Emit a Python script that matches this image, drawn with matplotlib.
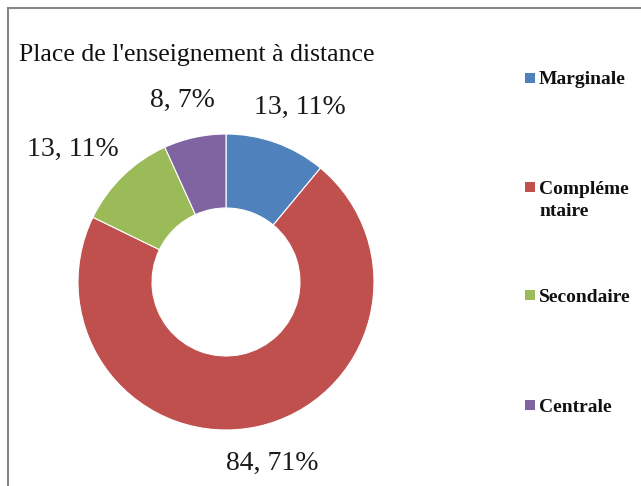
import matplotlib
matplotlib.use("Agg")
import numpy as np
import matplotlib.pyplot as plt
from matplotlib.patches import Rectangle

categories = ["Marginale", "Complémentaire", "Secondaire", "Centrale"]
legend_labels = ["Marginale", "Compléme\nntaire", "Secondaire", "Centrale"]
values = [13, 84, 13, 8]
colors = ["#4F81BD", "#C0504D", "#9BBB59", "#8064A2"]
title = "Place de l'enseignement à distance"

W, H = 641, 486
fig = plt.figure(figsize=(W / 100, H / 100), dpi=100)
fig.patch.set_facecolor("white")

serif = ["Liberation Serif", "DejaVu Serif"]

# outer border (cropped at right / bottom)
fig.patches.append(Rectangle((8 / W, -0.05), 1.2, 1 - 8 / H + 0.05,
                             transform=fig.transFigure, fill=False,
                             edgecolor="#878787", linewidth=1.5))

cx, cy, R = 226, 282, 148
ax = fig.add_axes([(cx - R) / W, (H - cy - R) / H, 2 * R / W, 2 * R / H])
total = sum(values)
labels = [f"{v}, {round(100 * v / total)}%" for v in values]
wedges, _ = ax.pie(values, colors=colors, startangle=90, counterclock=False,
                   radius=1,
                   wedgeprops=dict(width=0.5, edgecolor="white", linewidth=0.8))
ax.set_xlim(-1, 1)
ax.set_ylim(-1, 1)
ax.set_aspect("equal")
ax.axis("off")

# data labels outside the ring, pushed out by half their extent
texts = []
for w, lab in zip(wedges, labels):
    th = np.deg2rad((w.theta1 + w.theta2) / 2)
    t = ax.text(1.17 * np.cos(th), 1.17 * np.sin(th), lab, fontsize=20,
                family=serif, color="#1a1a1a", ha="center", va="center",
                clip_on=False)
    texts.append((t, th))
fig.canvas.draw()
r = fig.canvas.get_renderer()
for t, th in texts:
    bb = t.get_window_extent(r)
    hw = bb.width / 2 / R
    hh = bb.height / 2 / R
    x, y = t.get_position()
    t.set_position((x + np.cos(th) * hw, y + np.sin(th) * hh))

fig.text(19 / W, 1 - 61 / H, title, fontsize=18.5, family=serif, color="#111111",
         ha="left", va="baseline")

# legend
baselines = [85, 194, 302, 412]
for lab, col, y in zip(legend_labels, colors, baselines):
    fig.patches.append(Rectangle((525 / W, 1 - (y - 2) / H), 10 / W, 10 / H,
                                 transform=fig.transFigure, facecolor=col,
                                 edgecolor="none"))
    fig.text(539 / W, 1 - (y - 13.5) / H, lab, fontsize=14, family=serif,
             fontweight="bold", color="#111111", ha="left", va="top",
             linespacing=1.4)

fig.savefig("out.png", dpi=100)
